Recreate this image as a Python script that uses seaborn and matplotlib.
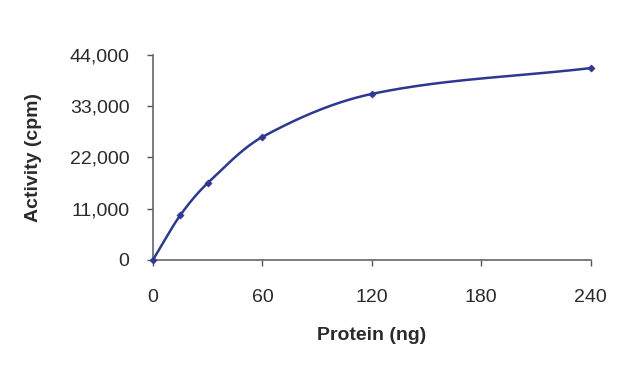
import numpy as np
import pandas as pd
import seaborn as sns
import matplotlib.pyplot as plt
from matplotlib.ticker import FuncFormatter

# data
protein = [0, 15, 30, 60, 120, 240]
activity = [0, 9600, 16500, 26400, 35650, 41200]
x_ticks = [0, 60, 120, 180, 240]
y_ticks = [0, 11000, 22000, 33000, 44000]

sns.set_theme(style="white")
plt.rcParams['font.family'] = ['Liberation Sans', 'DejaVu Sans']

color = '#2e3890'


# smoothed line through the points (cubic Hermite, finite-difference slopes)
def smooth(xs, ys, n=60):
    x = np.array(xs, float)
    y = np.array(ys, float)
    m = np.zeros_like(y)
    m[0] = (y[1] - y[0]) / (x[1] - x[0])
    m[-1] = (y[-1] - y[-2]) / (x[-1] - x[-2])
    for i in range(1, len(x) - 1):
        m[i] = (y[i + 1] - y[i - 1]) / (x[i + 1] - x[i - 1])
    out_x, out_y = [], []
    t = np.linspace(0, 1, n)
    for i in range(len(x) - 1):
        h = x[i + 1] - x[i]
        h00 = 2 * t ** 3 - 3 * t ** 2 + 1
        h10 = t ** 3 - 2 * t ** 2 + t
        h01 = -2 * t ** 3 + 3 * t ** 2
        h11 = t ** 3 - t ** 2
        out_x.extend(x[i] + t * h)
        out_y.extend(h00 * y[i] + h10 * h * m[i] + h01 * y[i + 1] + h11 * h * m[i + 1])
    return out_x, out_y


sx, sy = smooth(protein, activity)
curve = pd.DataFrame({'x': sx, 'y': sy})
df = pd.DataFrame({'Protein': protein, 'Activity': activity})

fig = plt.figure(figsize=(6.4, 3.67), dpi=100)
ax = fig.add_axes([0.239, 0.292, 0.684, 0.558])

sns.lineplot(data=curve, x='x', y='y', ax=ax, color=color, lw=1.8, sort=False)
sns.scatterplot(data=df, x='Protein', y='Activity', ax=ax, color=color,
                marker='D', s=14, edgecolor=color, zorder=3)

ax.set_xlim(0, 240)
ax.set_ylim(0, 44000)
ax.set_xticks(x_ticks)
ax.set_yticks(y_ticks)
ax.yaxis.set_major_formatter(FuncFormatter(lambda v, p: f'{int(v):,}'))
ax.tick_params(axis='both', direction='out', length=4, width=1, color='#555555',
               labelsize=14, labelcolor='#2a2a2a', left=True, bottom=True)
ax.tick_params(axis='x', pad=17)
ax.tick_params(axis='y', pad=13)

for s in ['top', 'right']:
    ax.spines[s].set_visible(False)
for s in ['left', 'bottom']:
    ax.spines[s].set_color('#666666')
    ax.spines[s].set_linewidth(1.2)

ax.set_xlabel('Protein (ng)', fontsize=14, fontweight='bold', labelpad=15, color='#2a2a2a')
ax.set_ylabel('Activity (cpm)', fontsize=14, fontweight='bold', labelpad=20, color='#2a2a2a')
for a in ax.lines + ax.collections:
    a.set_clip_on(False)

fig.savefig('out.png', dpi=100)
